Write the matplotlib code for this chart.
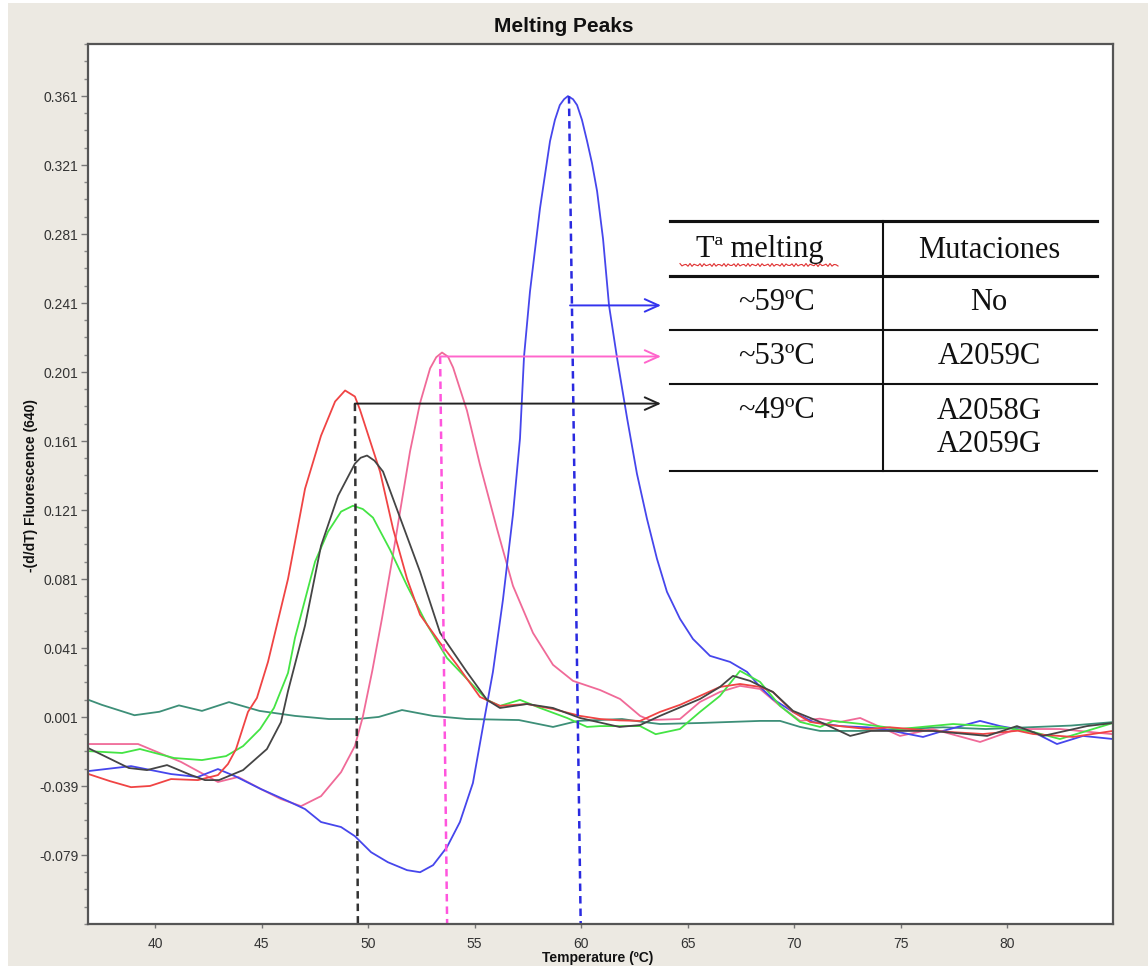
import numpy as np
import matplotlib.pyplot as plt
from matplotlib.lines import Line2D
from matplotlib.patches import Rectangle
from matplotlib.ticker import MultipleLocator

# melting curves: temperature (ºC) and -(d/dT) fluorescence
teal_t = [36.85, 37.5, 39.03, 40.2, 41.12, 42.2, 43.47, 44.9, 46.57, 48.16, 49.5, 50.5,
          51.59, 53.05, 54.64, 57.08, 58.68, 59.85, 61.92, 62.9, 63.7, 65.6, 68.4, 69.34,
          70.28, 71.22, 73.1, 75.0, 77.0, 79.0, 81.0, 83.0, 84.97]
teal_y = [0.011, 0.008, 0.002, 0.004, 0.0077, 0.0045, 0.0096, 0.0045, 0.0016, -0.0002, -0.0002, 0.001,
          0.005, 0.0016, -0.0002, -0.0008, -0.0048, -0.0013, -0.0002, -0.0019, -0.0031, -0.0025, -0.0013, -0.0013,
          -0.0048, -0.0071, -0.0071, -0.006, -0.005, -0.006, -0.005, -0.004, -0.002]

red_t = [36.85, 37.88, 38.87, 39.76, 40.75, 42.01, 42.95, 43.42, 43.8, 44.36, 44.78, 45.3, 46.24,
         47.04, 47.79, 48.45, 48.92, 49.38, 49.62, 50.56, 51.17, 51.83, 52.44, 53.38, 54.17, 55.25, 56.19,
         57.46, 58.68, 59.95, 60.89, 61.8, 62.77, 63.7, 64.64, 65.58, 66.52, 67.46, 68.4, 69.0, 69.95,
         70.75, 71.69, 73.42, 74.5, 76.52, 78.87, 80.5, 81.22, 83.09, 84.97]
red_y = [-0.032, -0.0362, -0.0397, -0.039, -0.035, -0.0356, -0.0327, -0.0263, -0.0176, 0.0039, 0.012, 0.0329, 0.081,
         0.1333, 0.164, 0.1838, 0.1902, 0.1867, 0.1790, 0.1432, 0.1101, 0.081, 0.0602, 0.0439, 0.0312, 0.0126, 0.0074,
         0.0085, 0.0056, 0.0016, -0.0002, -0.001, -0.0013, 0.0039, 0.008, 0.0132, 0.0184, 0.0201, 0.0184, 0.0155, 0.0039,
         -0.0019, -0.0037, -0.006, -0.005, -0.0071, -0.0089, -0.007, -0.0089, -0.0106, -0.0071]

black_t = [36.85, 38.77, 39.62, 40.56, 41.69, 42.34, 43.0, 44.13, 45.25, 45.91, 46.24, 47.04, 47.79,
           48.59, 49.38, 49.65, 49.95, 50.3, 50.7, 51.5, 52.44, 53.38, 54.64, 55.58, 56.19, 57.46, 58.68, 59.95,
           61.8, 62.77, 63.7, 65.58, 66.52, 67.13, 67.93, 69.0, 69.95, 71.22, 72.63, 73.6, 76.52,
           79.06, 80.46, 81.69, 83.75, 84.97]
black_y = [-0.017, -0.0286, -0.0298, -0.0269, -0.0327, -0.0356, -0.0356, -0.0298, -0.0176, -0.002, 0.016, 0.054, 0.1002,
           0.1292, 0.1478, 0.1512, 0.1525, 0.1495, 0.1432, 0.1165, 0.0851, 0.0497, 0.027, 0.0109, 0.0062, 0.0085, 0.0062,
           0.0004, -0.0048, -0.0037, 0.0016, 0.0114, 0.0184, 0.0248, 0.0219, 0.0155, 0.0045, -0.0019, -0.01, -0.0071,
           -0.0071, -0.01, -0.0043, -0.01, -0.0043, -0.0025]

green_t = [36.85, 38.45, 39.29, 40.89, 42.2, 43.33, 44.13, 44.93, 45.58, 46.24, 46.57, 47.51, 48.12,
           48.73, 49.29, 49.75, 50.23, 51.03, 51.83, 52.77, 53.7, 54.64, 55.58, 56.19, 57.13, 58.07, 59.34,
           60.28, 60.89, 62.77, 63.5, 64.64, 65.58, 66.52, 67.46, 68.4, 69.34, 70.28, 71.22, 71.83,
           73.1, 74.97, 77.46, 79.67, 81.22, 82.48, 84.97]
green_y = [-0.0188, -0.0199, -0.0176, -0.0228, -0.024, -0.0217, -0.0159, -0.006, 0.0062, 0.0265, 0.047, 0.091, 0.1084,
           0.12, 0.1234, 0.1215, 0.1165, 0.0979, 0.077, 0.0544, 0.0352, 0.023, 0.0109, 0.0074, 0.0109, 0.0062, 0.0004,
           -0.0048, -0.0043, -0.0043, -0.009, -0.006, 0.0039, 0.0132, 0.0277, 0.0213, 0.0074, -0.0019, -0.0048, -0.0013,
           -0.003, -0.006, -0.0031, -0.0048, -0.0077, -0.0118, -0.0025]

pink_t = [36.85, 39.2, 41.22, 42.95, 43.9, 44.97, 45.91, 46.85, 47.79, 48.73, 49.38, 49.75, 50.2,
          50.65, 51.1, 51.5, 51.97, 52.44, 52.91, 53.2, 53.47, 53.75, 53.99, 54.64, 55.25, 56.05, 56.8, 57.74,
          58.68, 59.62, 60.89, 61.83, 62.77, 63.23, 64.64, 65.58, 66.52, 67.46, 68.4, 69.34, 70.28,
          71.2, 72.16, 73.1, 74.97, 76.5, 78.73, 80.46, 82.48, 84.97]
pink_y = [-0.0147, -0.0147, -0.0251, -0.0367, -0.0338, -0.0408, -0.0466, -0.0507, -0.0449, -0.031, -0.0158, 0.001, 0.028,
          0.058, 0.09, 0.12, 0.155, 0.183, 0.203, 0.2095, 0.2122, 0.2098, 0.2035, 0.1786, 0.1472, 0.1101, 0.077, 0.0497,
          0.0312, 0.0219, 0.0166, 0.0114, 0.0016, -0.0008, -0.0002, 0.0097, 0.0155, 0.019, 0.0172, 0.0074, -0.0013,
          0.0, -0.0019, 0.0004, -0.01, -0.006, -0.0135, -0.006, -0.006, -0.009]

blue_t = [36.85, 38.87, 40.75, 42.0, 42.95, 43.75, 44.97, 46.24, 47.04, 47.79, 48.73, 49.38, 50.14,
          50.93, 51.83, 52.44, 53.05, 53.7, 54.31, 54.92, 55.44, 55.86, 56.33, 56.8, 57.13, 57.32,
          57.6, 58.07, 58.54, 58.77, 59.0, 59.2, 59.38, 59.62, 59.81, 60.04, 60.28, 60.51, 60.75, 61.03,
          61.31, 61.69, 62.16, 62.62, 63.09, 63.56, 64.03, 64.64, 65.25, 66.05, 66.99, 67.79, 68.4, 69.0,
          69.95, 70.89, 72.16, 73.42, 74.17, 76.05, 76.99, 78.73, 79.67, 81.22, 82.34, 83.56, 84.97]
blue_y = [-0.0304, -0.0275, -0.0321, -0.0338, -0.0292, -0.0333, -0.0408, -0.0478, -0.0524, -0.0599, -0.0628, -0.0681, -0.0774,
          -0.0832, -0.0878, -0.089, -0.0849, -0.0745, -0.0599, -0.0373, -0.0013, 0.0271, 0.0689, 0.1182, 0.1623, 0.2099,
          0.2476, 0.2958, 0.3347, 0.347, 0.3556, 0.359, 0.3608, 0.359, 0.3556, 0.347, 0.3347, 0.322, 0.3057, 0.278,
          0.2395, 0.2088, 0.174, 0.142, 0.1159, 0.0927, 0.0735, 0.0579, 0.0462, 0.0364, 0.0329, 0.0271, 0.0184, 0.0114,
          0.0039, -0.0019, -0.0043, -0.005, -0.006, -0.0106, -0.0071, -0.0013, -0.0043, -0.0077, -0.0147, -0.01, -0.0118]

# dashed peak markers (top x, top y, bottom x) and arrows (start x, y) -> table
mark_colors = ['#333333', '#ff55dd', '#2a2ae0']
mark_top_t = [49.38, 53.38, 59.43]
mark_top_y = [0.1826, 0.2099, 0.3608]
mark_bot_t = [49.52, 53.71, 59.98]
arrow_start_t = [49.38, 53.38, 59.48]
arrow_y = [0.1826, 0.2099, 0.2395]
arrow_end_t = 63.75
arrow_colors = ['#222222', '#ff66cc', '#3333ee']

# table
col_heads = ['Tª melting', 'Mutaciones']
tm_labels = ['~59ºC', '~53ºC', '~49ºC']
mut_labels = ['No', 'A2059C', 'A2058G\nA2059G']

yticks = [0.361, 0.321, 0.281, 0.241, 0.201, 0.161, 0.121, 0.081, 0.041, 0.001, -0.039, -0.079]
xticks = [40, 45, 50, 55, 60, 65, 70, 75, 80]

W, H = 1148, 970
fig = plt.figure(figsize=(W / 100, H / 100), dpi=100)
fig.patch.set_facecolor('white')
fig.add_artist(Rectangle((8 / W, 3 / H), 1, 1 - 7 / H, transform=fig.transFigure,
                         facecolor='#ece9e2', edgecolor='none', zorder=-10))

ax = fig.add_axes([88 / W, 45 / H, 1025 / W, 880 / H])
ax.set_facecolor('white')

lw = 1.3
ax.plot(teal_t, teal_y, color='#3d8f78', lw=lw)
ax.plot(pink_t, pink_y, color='#f06a98', lw=lw)
ax.plot(blue_t, blue_y, color='#4646ec', lw=lw)
ax.plot(green_t, green_y, color='#44e444', lw=lw)
ax.plot(red_t, red_y, color='#f04444', lw=lw)
ax.plot(black_t, black_y, color='#454545', lw=lw)

for i in range(3):
    ax.plot([mark_top_t[i], mark_bot_t[i]], [mark_top_y[i], -0.119], color=mark_colors[i],
            lw=1.8, ls=(0, (3, 2)))
    ax.annotate('', xy=(arrow_end_t, arrow_y[i]), xytext=(arrow_start_t[i], arrow_y[i]),
                arrowprops=dict(arrowstyle='->,head_length=1.0,head_width=0.45',
                                color=arrow_colors[i], lw=1.4, shrinkA=0, shrinkB=0))

ax.set_xlim(36.85, 84.97)
ax.set_ylim(-0.119, 0.391)
ax.set_xticks(xticks)
ax.set_yticks(yticks)
ax.set_yticklabels([f'{v:.3f}' for v in yticks])
ax.yaxis.set_minor_locator(MultipleLocator(0.01, offset=0.001))
ax.tick_params(axis='both', which='major', labelsize=10, labelcolor='#333333', color='#777777',
               width=1, length=5, pad=2)
ax.tick_params(axis='x', which='major', length=3, pad=6)
ax.tick_params(axis='y', which='minor', color='#888888', width=1, length=3)
for lab in ax.get_xticklabels() + ax.get_yticklabels():
    lab.set_family('Liberation Sans')
for s in ax.spines.values():
    s.set_color('#555555')
    s.set_linewidth(1.6)

fig.text(564 / W, 1 - 27 / H, 'Melting Peaks', ha='center', va='center', fontsize=15,
         fontweight='bold', family='Liberation Sans', color='#111111')
fig.text(598 / W, 1 - 958 / H, 'Temperature (ºC)', ha='center', va='center', fontsize=10,
         fontweight='bold', family='Liberation Sans', color='#111111')
fig.text(31 / W, 1 - 485 / H, '-(d/dT) Fluorescence (640)', ha='center', va='center', fontsize=10,
         fontweight='bold', family='Liberation Sans', rotation=90, color='#111111')


# table drawn in figure pixels
def fx(px):
    return px / W


def fy(py):
    return 1 - py / H


for py, w in [(222, 3.0), (277, 3.0), (331, 2.0), (385, 2.0), (472, 2.0)]:
    fig.add_artist(Line2D([fx(670), fx(1097)], [fy(py), fy(py)], color='#111111', lw=w * 0.75))
fig.add_artist(Line2D([fx(883), fx(883)], [fy(222), fy(472)], color='#111111', lw=1.5))

tfont = dict(family='Liberation Serif', fontsize=22, color='#111111', ha='center', va='center')
fig.text(fx(760), fy(250), col_heads[0], **tfont)
fig.text(fx(989), fy(250), col_heads[1], **tfont)
row_y = [303, 357, 410]
for i in range(3):
    fig.text(fx(777), fy(row_y[i]), tm_labels[i], **tfont)
mut_y = [303, 357, 428]
for i in range(3):
    fig.text(fx(989), fy(mut_y[i]), mut_labels[i], linespacing=1.2, **tfont)

# spell-check squiggle under the first header
sq_x = np.linspace(680, 838, 80)
sq_y = 266 + 1.5 * np.sin(sq_x * 1.3)
fig.add_artist(Line2D(fx(sq_x), fy(sq_y), color='#e03030', lw=0.8))

fig.savefig('out.png', dpi=100, facecolor=fig.get_facecolor())
